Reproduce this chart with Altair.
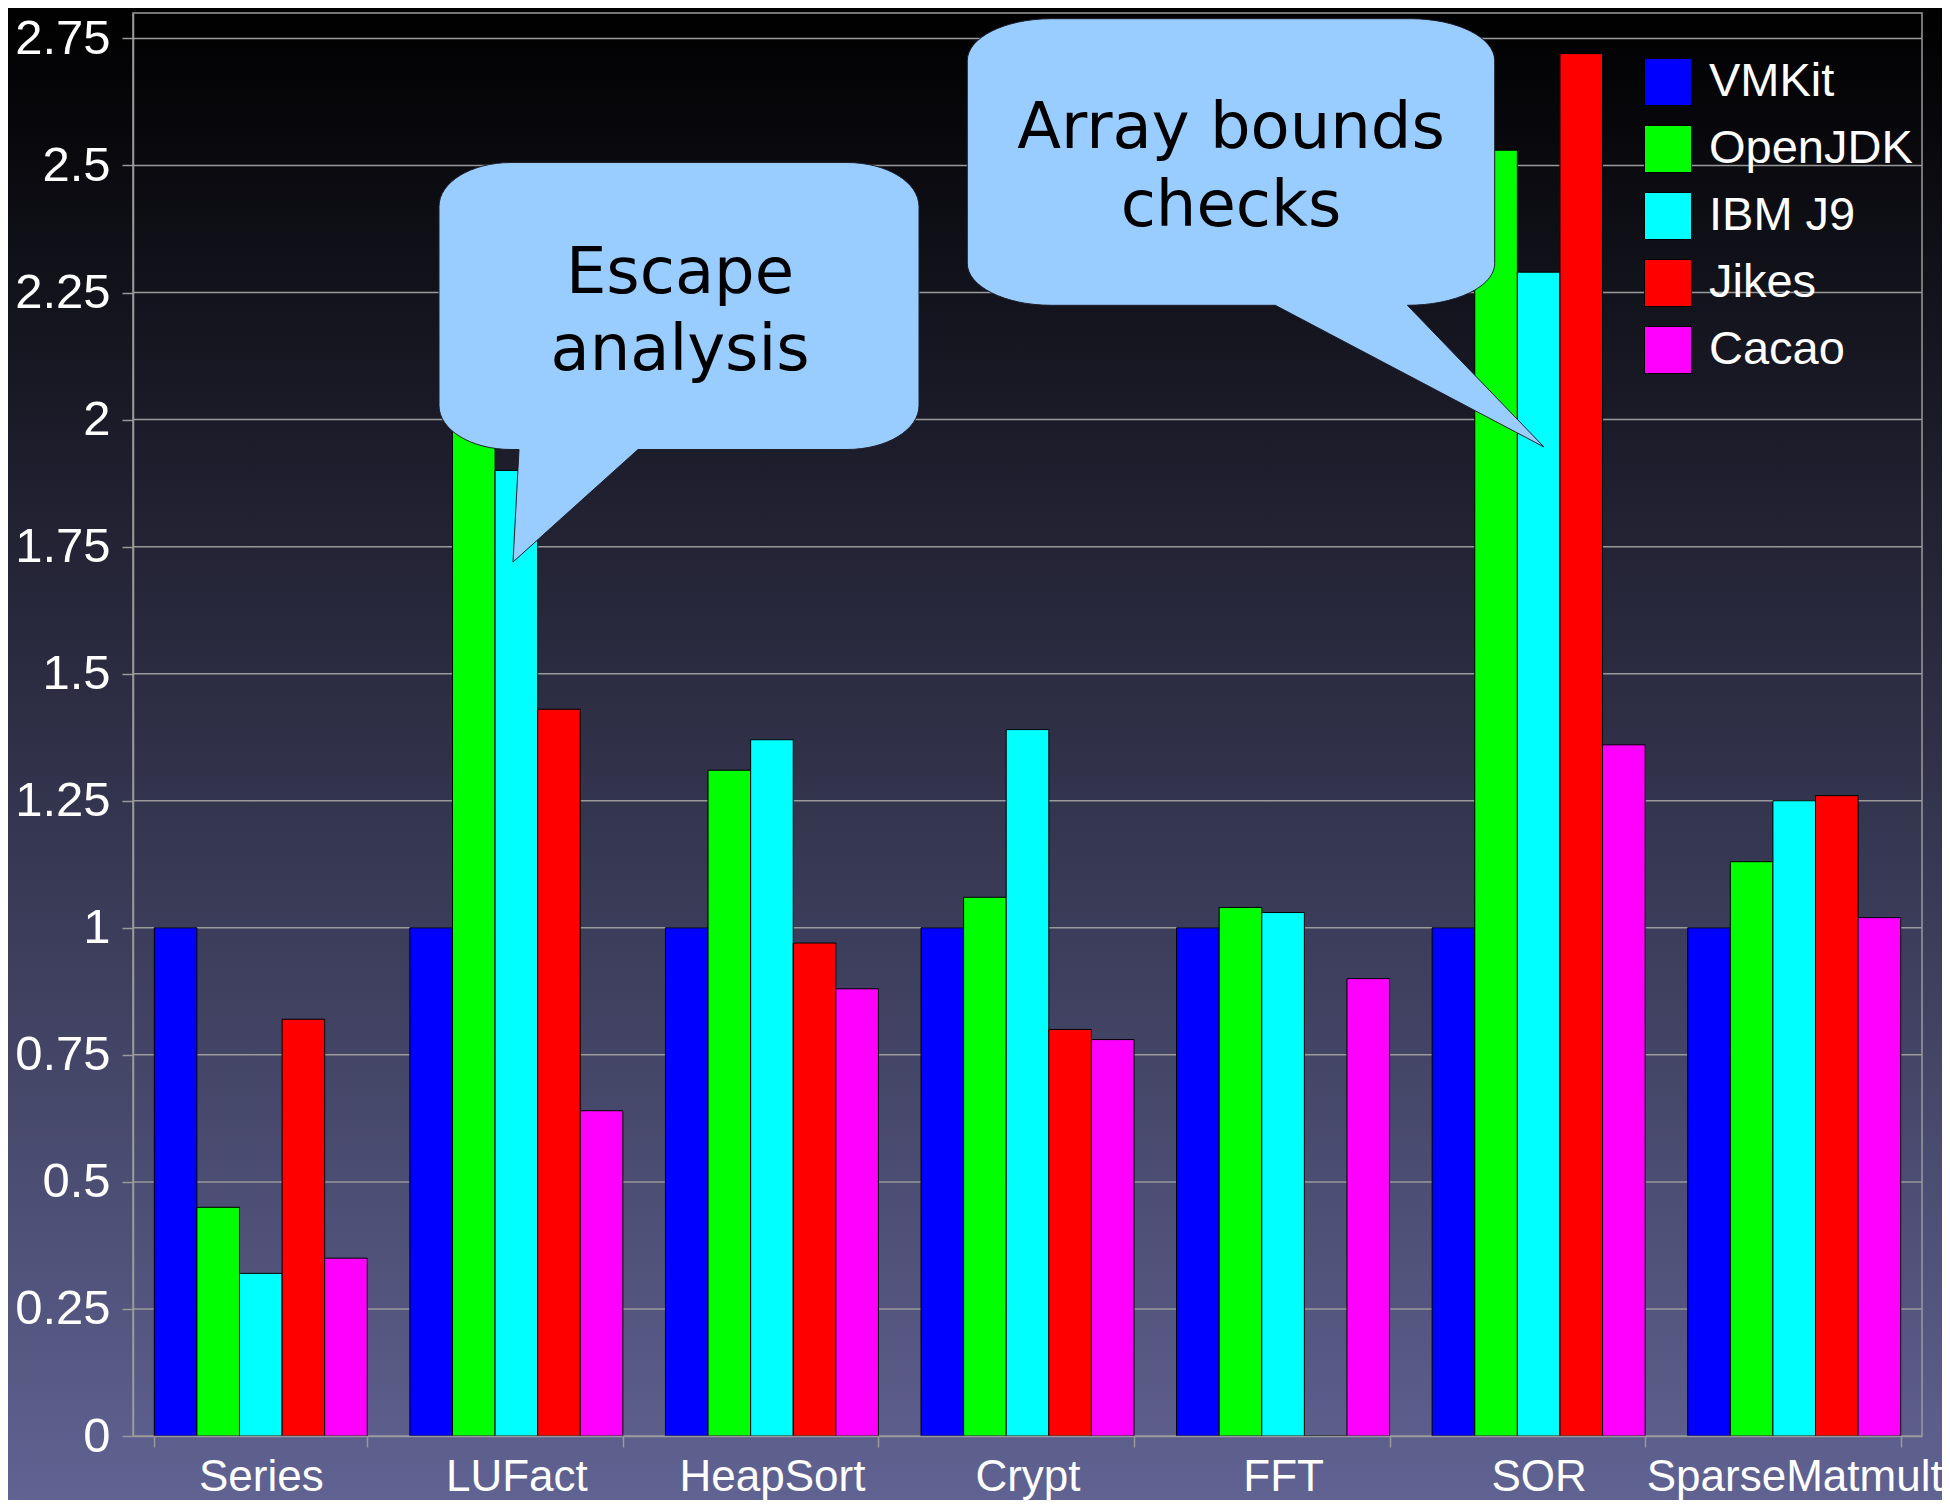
import altair as alt
import pandas as pd

# ---------------- data ----------------
categories = ["Series", "LUFact", "HeapSort", "Crypt", "FFT", "SOR", "SparseMatmult"]
engines = ["VMKit", "OpenJDK", "IBM J9", "Jikes", "Cacao"]
engine_colors = ["#0000ff", "#00ff00", "#00ffff", "#ff0000", "#ff00ff"]

vmkit = [1.00, 1.00, 1.00, 1.00, 1.00, 1.00, 1.00]
openjdk = [0.45, 2.15, 1.31, 1.06, 1.04, 2.53, 1.13]
ibm_j9 = [0.32, 1.90, 1.37, 1.39, 1.03, 2.29, 1.25]
jikes = [0.82, 1.43, 0.97, 0.80, 0.00, 2.72, 1.26]
cacao = [0.35, 0.64, 0.88, 0.78, 0.90, 1.36, 1.02]

y_ticks = [0, 0.25, 0.5, 0.75, 1, 1.25, 1.5, 1.75, 2, 2.25, 2.5, 2.75]
grid_ticks = y_ticks[1:]

callout_escape = ["Escape", "analysis"]
callout_bounds = ["Array bounds", "checks"]

series = [vmkit, openjdk, ibm_j9, jikes, cacao]
rows = []
for eng, vals in zip(engines, series):
    for cat, v in zip(categories, vals):
        rows.append({"benchmark": cat, "vm": eng, "value": v})
df = pd.DataFrame(rows)

# ---------------- layout ----------------
W, H = 1789, 1423
PAD_L, PAD_T, PAD_R, PAD_B = 125, 5, 20, 64
FONT = "Liberation Sans"
GRID = "#9a9a9a"

one = alt.Data(values=[{}])

background = alt.Chart(one).mark_rect(
    clip=False,
    color=alt.Gradient(
        gradient="linear",
        stops=[alt.GradientStop(color="#000000", offset=0),
               alt.GradientStop(color="#353650", offset=0.55),
               alt.GradientStop(color="#606292", offset=1)],
        x1=0, x2=0, y1=0, y2=1,
    ),
).encode(
    x=alt.value(-PAD_L), x2=alt.value(W + PAD_R),
    y=alt.value(-PAD_T), y2=alt.value(H + PAD_B),
)

grid = alt.Chart(pd.DataFrame({"v": grid_ticks})).mark_rule(
    color=GRID, strokeWidth=1.5
).encode(y=alt.Y("v:Q", scale=alt.Scale(domain=[0, 2.8], nice=False, zero=True)))

frame = alt.Chart(one).mark_rect(
    fill=None, fillOpacity=0, stroke=GRID, strokeWidth=1.5
).encode(x=alt.value(0), x2=alt.value(W), y=alt.value(0), y2=alt.value(H))

bars = alt.Chart(df).mark_bar(stroke="#000000", strokeWidth=1, opacity=1).encode(
    x=alt.X("benchmark:N", sort=categories,
            scale=alt.Scale(paddingInner=1 / 6, paddingOuter=1 / 12),
            axis=alt.Axis(title=None, labelAngle=0, labelFont=FONT, labelFontSize=44,
                          labelColor="#ffffff", labelPadding=8, labelLimit=0,
                          labelOverlap=False, tickBand="extent",
                          tickSize=11, tickColor=GRID, tickWidth=1.5,
                          domainColor=GRID, domainWidth=1.5, grid=False, zindex=1)),
    xOffset=alt.XOffset("vm:N", sort=engines,
                        scale=alt.Scale(paddingInner=0, paddingOuter=0)),
    y=alt.Y("value:Q", scale=alt.Scale(domain=[0, 2.8], nice=False, zero=True),
            axis=alt.Axis(title=None, values=y_ticks, format=".2~f", labelFont=FONT,
                          labelFontSize=49, labelColor="#ffffff", labelPadding=12,
                          labelLimit=0,
                          tickSize=11, tickColor=GRID, tickWidth=1.5,
                          domainColor=GRID, domainWidth=1.5, grid=False, zindex=1)),
    color=alt.Color("vm:N", sort=engines,
                    scale=alt.Scale(domain=engines, range=engine_colors),
                    legend=alt.Legend(title=None, orient="none", legendX=1511, legendY=45,
                                      symbolType="square", symbolSize=2209,
                                      symbolStrokeColor="#000000", symbolStrokeWidth=1,
                                      symbolOpacity=1, labelFont=FONT, labelFontSize=47,
                                      labelColor="#ffffff", labelOffset=17, rowPadding=15,
                                      labelLimit=0, padding=0, zindex=1)),
)

BUBBLE_FILL = "#99ccff"
BUBBLE_STROKE = "#1e1e28"

escape_path = (
    "M -168 -143.5 L 168 -143.5 A 72 44 0 0 1 240 -99.5 L 240 99.5 "
    "A 72 44 0 0 1 168 143.5 L -41 143.5 L -166 256 L -160 143.5 L -168 143.5 "
    "A 72 44 0 0 1 -240 99.5 L -240 -99.5 A 72 44 0 0 1 -168 -143.5 Z"
)
bounds_path = (
    "M -180 -143.3 L 180 -143.3 A 84 42 0 0 1 263.7 -101.3 L 263.7 101.3 "
    "A 87 42 0 0 1 176.4 143.3 L 313 285 L 44.3 143.3 L -180 143.3 "
    "A 84 42 0 0 1 -263.7 101.3 L -263.7 -101.3 A 84 42 0 0 1 -180 -143.3 Z"
)

bubble_escape = alt.Chart(one).mark_point(
    shape=escape_path, size=4, filled=True, color=BUBBLE_FILL, fill=BUBBLE_FILL,
    stroke=BUBBLE_STROKE, strokeWidth=1, opacity=1, fillOpacity=1, clip=False
).encode(x=alt.value(546), y=alt.value(293))

bubble_bounds = alt.Chart(one).mark_point(
    shape=bounds_path, size=4, filled=True, color=BUBBLE_FILL, fill=BUBBLE_FILL,
    stroke=BUBBLE_STROKE, strokeWidth=1, opacity=1, fillOpacity=1, clip=False
).encode(x=alt.value(1098), y=alt.value(149))


def callout_text(text, x, y):
    return alt.Chart(alt.Data(values=[{"t": text}])).mark_text(
        font="DejaVu Sans", fontSize=64, color="#000000",
        align="center", baseline="alphabetic"
    ).encode(x=alt.value(x), y=alt.value(y), text="t:N")


texts = [
    callout_text(callout_escape[0], 547, 280),
    callout_text(callout_escape[1], 547, 357),
    callout_text(callout_bounds[0], 1098, 135),
    callout_text(callout_bounds[1], 1098, 213),
]

chart = alt.layer(
    background, grid, frame, bars, bubble_escape, bubble_bounds, *texts
).properties(
    width=W, height=H,
    autosize=alt.AutoSizeParams(type="none"),
    padding={"left": PAD_L, "top": PAD_T, "right": PAD_R, "bottom": PAD_B},
    background="#000000",
).configure_view(stroke=None)

chart.save("out.html", embed_options={"renderer": "svg", "actions": False})
